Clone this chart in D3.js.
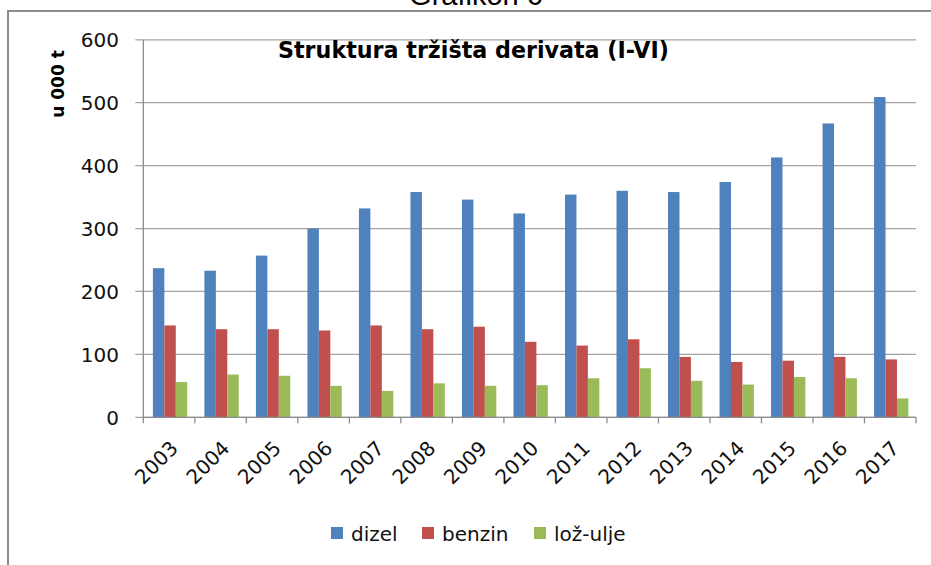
<!DOCTYPE html>
<html>
<head>
<meta charset="utf-8">
<script src="https://cdn.jsdelivr.net/npm/d3@7"></script>
<style>
  html, body { margin: 0; padding: 0; background: #fff; overflow: hidden; }
  svg { display: block; font-family: "DejaVu Sans", sans-serif; }
</style>
</head>
<body>
<div id="chart"></div>
<script>
// podaci (u 000 t)
const years = ["2003", "2004", "2005", "2006", "2007", "2008", "2009", "2010",
               "2011", "2012", "2013", "2014", "2015", "2016", "2017"];
const seriesNames = ["dizel", "benzin", "lož-ulje"];
const dizel = [237, 233, 257, 300, 332, 358, 346, 324, 354, 360, 358, 374, 413, 467, 509];
const benzin = [146, 140, 140, 138, 146, 140, 144, 120, 114, 124, 96, 88, 90, 96, 92];
const lozUlje = [56, 68, 66, 50, 42, 54, 50, 51, 62, 78, 58, 52, 64, 62, 30];
const yTicks = [0, 100, 200, 300, 400, 500, 600];
const colors = ["#4F81BD", "#C0504D", "#9BBB59"];

const width = 931;
const height = 565;
const marginLeft = 143.3;
const marginRight = 15;
const marginTop = 39.8;
const plotBottom = 417.3;

const svg = d3.select("#chart").append("svg")
    .attr("width", width)
    .attr("height", height);

// okvir
svg.append("rect")
    .attr("x", 8)
    .attr("y", 11)
    .attr("width", width + 20)
    .attr("height", height + 20)
    .attr("fill", "#fff")
    .attr("stroke", "#8c8c8c")
    .attr("stroke-width", 2);

// naslov iznad okvira (odrezan)
svg.append("text")
    .attr("x", 476)
    .attr("y", 5)
    .attr("text-anchor", "middle")
    .style("font-family", "'Liberation Sans', Arial, sans-serif")
    .style("font-size", "29px")
    .attr("fill", "#000")
    .text("Grafikon 6");

const x = d3.scaleBand()
    .domain(years)
    .range([marginLeft, width - marginRight])
    .padding(0);

const barW = x.bandwidth() / 4.5;
const x1 = d3.scaleBand()
    .domain(seriesNames)
    .range([barW * 0.75 + 1, barW * 3.75 + 1])
    .padding(0);

const y = d3.scaleLinear()
    .domain([0, 600])
    .range([plotBottom, marginTop]);

// mreža
svg.append("g")
    .selectAll("line")
    .data(yTicks)
    .join("line")
    .attr("x1", marginLeft - 8)
    .attr("x2", width - marginRight)
    .attr("y1", d => y(d))
    .attr("y2", d => y(d))
    .attr("stroke", "#a3a3a3")
    .attr("stroke-width", 1.3);

// y oznake
svg.append("g")
    .selectAll("text")
    .data(yTicks)
    .join("text")
    .attr("x", 119)
    .attr("y", d => y(d))
    .attr("dy", "0.36em")
    .attr("text-anchor", "end")
    .style("font-size", "20px")
    .attr("fill", "#111")
    .text(d => d);

// y os
svg.append("line")
    .attr("x1", marginLeft)
    .attr("x2", marginLeft)
    .attr("y1", marginTop)
    .attr("y2", plotBottom)
    .attr("stroke", "#8c8c8c")
    .attr("stroke-width", 1.3);

// stupci
const table = years.map((yr, i) => ({
    year: yr,
    values: [dizel[i], benzin[i], lozUlje[i]]
}));

const groups = svg.append("g")
    .selectAll("g")
    .data(table)
    .join("g")
    .attr("transform", d => `translate(${x(d.year)},0)`);

groups.selectAll("rect")
    .data(d => d.values.map((v, k) => ({ name: seriesNames[k], value: v, k })))
    .join("rect")
    .attr("x", d => x1(d.name))
    .attr("width", x1.bandwidth())
    .attr("y", d => y(d.value))
    .attr("height", d => y(0) - y(d.value))
    .attr("fill", d => colors[d.k]);

// x os
svg.append("line")
    .attr("x1", marginLeft)
    .attr("x2", width - marginRight)
    .attr("y1", plotBottom)
    .attr("y2", plotBottom)
    .attr("stroke", "#8c8c8c")
    .attr("stroke-width", 1.3);

svg.append("g")
    .selectAll("line")
    .data(years.concat(["end"]))
    .join("line")
    .attr("x1", (d, i) => marginLeft + i * x.bandwidth())
    .attr("x2", (d, i) => marginLeft + i * x.bandwidth())
    .attr("y1", plotBottom)
    .attr("y2", plotBottom + 6)
    .attr("stroke", "#8c8c8c")
    .attr("stroke-width", 1.3);

// x oznake
svg.append("g")
    .selectAll("text")
    .data(years)
    .join("text")
    .attr("transform", d => `translate(${x(d) + x.bandwidth() / 2 + 5},${plotBottom + 27}) rotate(-45)`)
    .attr("text-anchor", "end")
    .attr("dy", "0.36em")
    .style("font-size", "20px")
    .attr("fill", "#111")
    .text(d => d);

// naslov grafikona
svg.append("text")
    .attr("x", 278)
    .attr("y", 58)
    .attr("textLength", 391)
    .attr("lengthAdjust", "spacingAndGlyphs")
    .style("font-size", "22.5px")
    .style("font-weight", "bold")
    .attr("fill", "#000")
    .text("Struktura tržišta derivata (I-VI)");

// naslov y osi
svg.append("text")
    .attr("transform", "translate(64,84) rotate(-90)")
    .attr("text-anchor", "middle")
    .style("font-size", "17px")
    .style("font-weight", "bold")
    .attr("fill", "#000")
    .text("u 000 t");

// legenda
const legendX = [331, 422, 534];
const legend = svg.append("g")
    .selectAll("g")
    .data(seriesNames)
    .join("g")
    .attr("transform", (d, i) => `translate(${legendX[i]},527)`);

legend.append("rect")
    .attr("width", 12)
    .attr("height", 12)
    .attr("fill", (d, i) => colors[i]);

legend.append("text")
    .attr("x", 20)
    .attr("y", 14)
    .style("font-size", "20px")
    .attr("fill", "#111")
    .text(d => d);
</script>
</body>
</html>
